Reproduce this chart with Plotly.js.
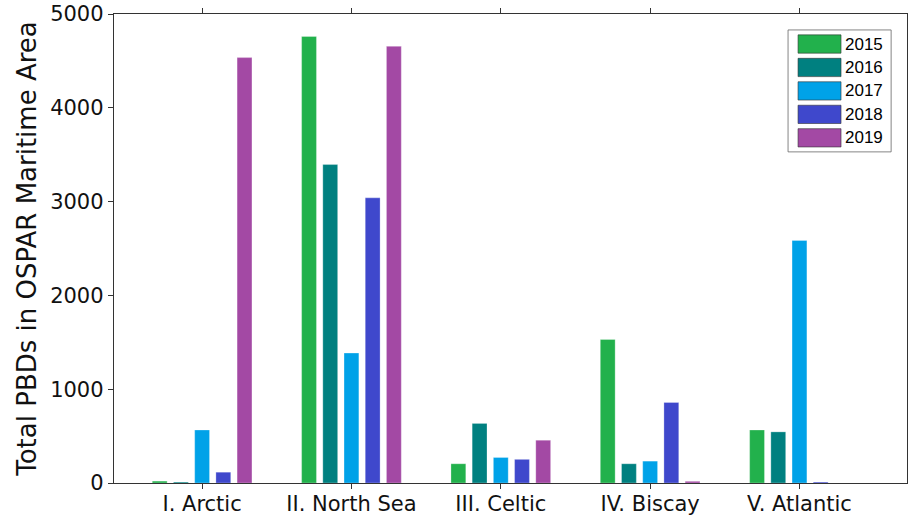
<!DOCTYPE html>
<html>
<head>
<meta charset="utf-8">
<script src="https://cdn.plot.ly/plotly-3.0.1.min.js"></script>
<style>html,body{margin:0;padding:0;background:#fff;}#chart{width:913px;height:516px;}</style>
</head>
<body>
<div id="chart"></div>
<script>
const regions = ["I. Arctic", "II. North Sea", "III. Celtic", "IV. Biscay", "V. Atlantic"];
const years = ["2015", "2016", "2017", "2018", "2019"];
const colors = ["#22b14c", "#008080", "#00a2e8", "#3f48cc", "#a349a4"];
const v2015 = [20, 4760, 205, 1530, 565];
const v2016 = [10, 3395, 635, 205, 545];
const v2017 = [565, 1385, 272, 233, 2585];
const v2018 = [115, 3040, 252, 858, 10];
const v2019 = [4535, 4655, 456, 18, 0];
const series = [v2015, v2016, v2017, v2018, v2019];

const traces = series.map((vals, i) => ({
  type: "bar",
  x: regions,
  y: vals,
  name: years[i],
  marker: {color: colors[i], line: {color: "rgba(255,255,255,0.35)", width: 0.8}},
  showlegend: false,
  hoverinfo: "x+y+name"
}));

// custom legend (wide swatches, as in the reference)
const shapes = [];
const annotations = [];
const lgX0 = 0.8626, lgW = 0.0542, rowY = [0.936, 0.886, 0.836, 0.786, 0.736], swH = 0.039;
shapes.push({type: "rect", xref: "paper", yref: "paper",
  x0: 0.850, x1: 0.980, y0: 0.706, y1: 0.966,
  line: {color: "#666", width: 0.8}, fillcolor: "#fff", layer: "above"});
years.forEach((yr, i) => {
  const yc = rowY[i];
  shapes.push({type: "rect", xref: "paper", yref: "paper",
    x0: lgX0, x1: lgX0 + lgW, y0: yc - swH / 2, y1: yc + swH / 2,
    fillcolor: colors[i], line: {color: "#333", width: 0.6}, layer: "above"});
  annotations.push({xref: "paper", yref: "paper", x: 0.919, y: yc,
    xanchor: "left", yanchor: "middle", text: yr, showarrow: false,
    font: {family: "Liberation Sans, Arial, sans-serif", size: 17, color: "#000"}});
});

const layout = {
  width: 913, height: 516,
  margin: {l: 114, r: 6, t: 14, b: 33},
  paper_bgcolor: "#fff", plot_bgcolor: "#fff",
  barmode: "group", bargap: 0.29, bargroupgap: 0.3,
  font: {family: "DejaVu Sans, sans-serif", color: "#000"},
  xaxis: {
    range: [-0.59, 4.72], showgrid: false, zeroline: false,
    showline: true, linecolor: "#333", linewidth: 1.2, mirror: "ticks",
    ticks: "outside", ticklen: 5, tickcolor: "#333", tickwidth: 1,
    ticklabelstandoff: -3,
    tickfont: {size: 21, color: "#111"}
  },
  yaxis: {
    range: [0, 5000], dtick: 1000, showgrid: false, zeroline: false,
    showline: true, linecolor: "#333", linewidth: 1.2, mirror: true,
    ticks: "outside", ticklen: 5, tickcolor: "#333", tickwidth: 1,
    tickfont: {size: 21, color: "#111"},
    title: {text: "Total PBDs in OSPAR Maritime Area", font: {size: 26, color: "#111"}, standoff: 6}
  },
  shapes: shapes,
  annotations: annotations
};
Plotly.newPlot("chart", traces, layout, {displayModeBar: false, staticPlot: true});
</script>
</body>
</html>
